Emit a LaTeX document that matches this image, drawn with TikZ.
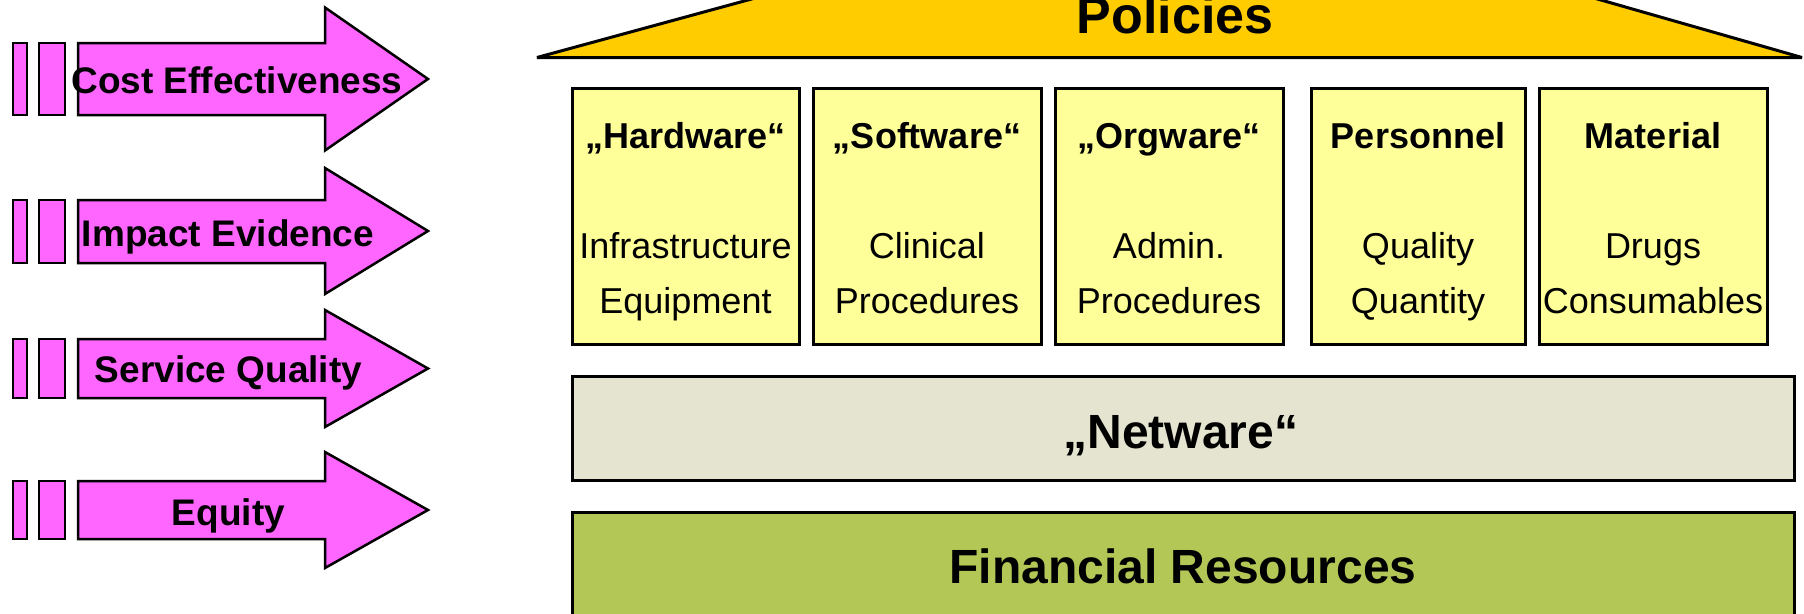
\documentclass[tikz,border=0pt]{standalone}
\usepackage{fontspec}
\setmainfont{Liberation Sans}
\definecolor{arrowfill}{HTML}{FF66FF}
\definecolor{roofgold}{HTML}{FFCC00}
\definecolor{boxyellow}{HTML}{FFFF99}
\definecolor{netgray}{HTML}{E4E4D0}
\definecolor{fingreen}{HTML}{B3C756}
\tikzset{
  arrowpart/.style={draw=black, line width=2.5pt, fill=arrowfill, line join=miter},
  arrowlbl/.style={font=\fontsize{37}{37}\selectfont\bfseries, anchor=base, inner sep=0pt},
  pillar/.style={draw=black, line width=3pt, fill=boxyellow, inner sep=0pt, minimum width=228pt, minimum height=256pt},
  pillartitle/.style={font=\fontsize{36}{36}\selectfont\bfseries, anchor=base, inner sep=0pt},
  pillartext/.style={font=\fontsize{36}{36}\selectfont, anchor=base, inner sep=0pt},
  bandbox/.style={draw=black, line width=3pt, inner sep=0pt},
  bandlbl/.style={font=\fontsize{48}{48}\selectfont\bfseries, anchor=base, inner sep=0pt},
}
\begin{document}
\begin{tikzpicture}[x=1pt,y=-1pt]
\useasboundingbox (0,0) rectangle (1804,613);
\clip (0,0) rectangle (1804,613);

% roof (Policies)
\draw[fill=roofgold, line width=3pt, line join=miter, miter limit=4]
  (537,57.5) -- (858,-30) -- (1496,-30) -- (1802,57.5) -- cycle;
\node[bandlbl, font=\fontsize{52}{52}\selectfont\bfseries] (policies) at (1175,33) {Policies};

% arrows on the left
\foreach \n/\st/\sb/\hdt/\hdb/\cy/\tx/\ty/\txt in {
  a/43/115/7.5/150.5/79/237/93/Cost Effectiveness,
  b/200/263/168/294/231/228/246.5/Impact Evidence,
  c/339/398/310/427/368.5/228.5/382.5/Service Quality,
  d/481/539/452/568/510/228.5/525/Equity}{
  \draw[arrowpart] (13,\st) rectangle (27,\sb);
  \draw[arrowpart] (39,\st) rectangle (65,\sb);
  \draw[arrowpart] (78,\st) -- (325,\st) -- (325,\hdt) -- (428,\cy) -- (325,\hdb) -- (325,\sb) -- (78,\sb) -- cycle;
  \node[arrowlbl] (lbl-\n) at (\tx,\ty) {\txt};
}

% pillars
\node[pillar, minimum width=227pt] (hw) at (685.5,216) {};
\node[pillar, minimum width=228pt] (sw) at (927,216) {};
\node[pillar, minimum width=228pt] (ow) at (1169,216) {};
\node[pillar, minimum width=214pt] (pe) at (1418,216) {};
\node[pillar, minimum width=228pt] (ma) at (1653,216) {};

\node[pillartitle] (hw-t) at (685.5,148) {„Hardware“};
\node[pillartext] (hw-1) at (685.5,258) {Infrastructure};
\node[pillartext] (hw-2) at (685.5,313) {Equipment};

\node[pillartitle] (sw-t) at (927,148) {„Software“};
\node[pillartext] (sw-1) at (927,258) {Clinical};
\node[pillartext] (sw-2) at (927,313) {Procedures};

\node[pillartitle] (ow-t) at (1169,148) {„Orgware“};
\node[pillartext] (ow-1) at (1169,258) {Admin.};
\node[pillartext] (ow-2) at (1169,313) {Procedures};

\node[pillartitle] (pe-t) at (1418,148) {Personnel};
\node[pillartext] (pe-1) at (1418,258) {Quality};
\node[pillartext] (pe-2) at (1418,313) {Quantity};

\node[pillartitle] (ma-t) at (1653,148) {Material};
\node[pillartext] (ma-1) at (1653,258) {Drugs};
\node[pillartext] (ma-2) at (1653,313) {Consumables};

% bands
\node[bandbox, fill=netgray, minimum width=1222pt, minimum height=104pt] (net) at (1183,428) {};
\node[bandlbl] (net-t) at (1181,448) {„Netware“};
\node[bandbox, fill=fingreen, minimum width=1222pt, minimum height=110pt] (fin) at (1183,567) {};
\node[bandlbl] (fin-t) at (1183,583) {Financial Resources};
\end{tikzpicture}
\end{document}
